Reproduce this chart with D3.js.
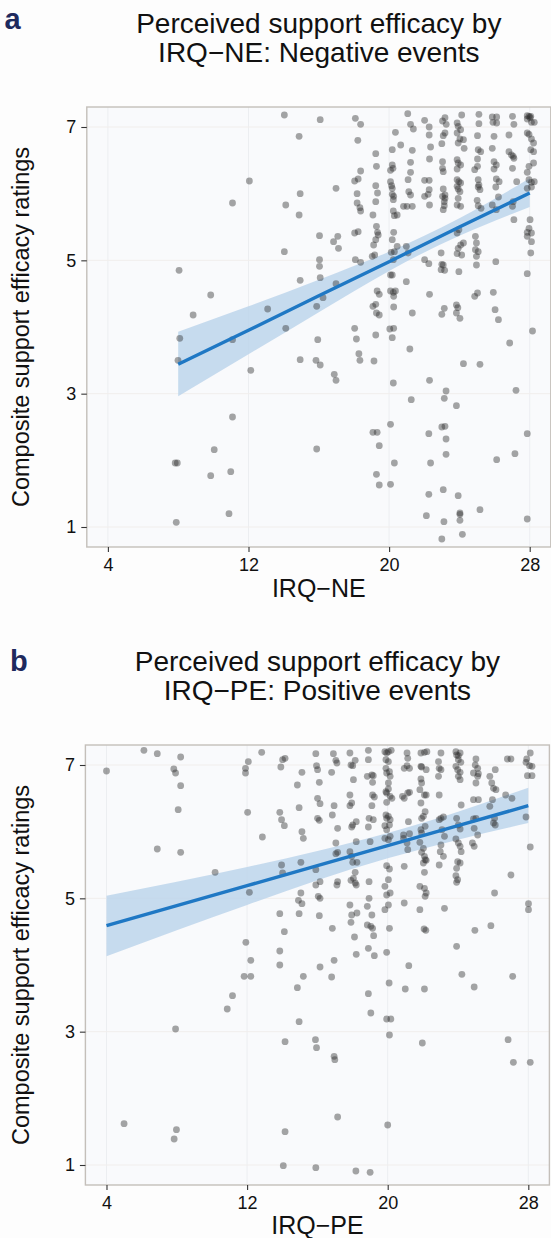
<!DOCTYPE html>
<html>
<head>
<meta charset="utf-8">
<script src="https://cdn.jsdelivr.net/npm/d3@7"></script>
<style>
  body { margin: 0; background: #fdfdfd; }
  text { font-family: "Liberation Sans", Arial, sans-serif; }
</style>
</head>
<body>
<svg id="chart"></svg>
<script>
// ticks shared by both panels
const xTicks = [4, 12, 20, 28];
const yTicks = [1, 3, 5, 7];

// panel a: IRQ-NE (jittered raw points)
const negPoints = [
  [14.04,7.18],[16.08,7.11],[18.08,7.13],[18.38,7.04],[21.06,7.20],[21.22,7.04],[21.38,6.97],[22.02,7.10],[22.28,7.00],[23.04,7.09],
  [23.18,7.14],[23.25,7.04],[23.87,7.06],[23.93,7.01],[24.07,6.96],[24.13,7.18],[25.11,7.19],[25.11,7.05],[25.87,7.15],[25.91,7.07],
  [26.12,7.15],[26.12,7.06],[27.02,7.16],[27.10,7.04],[27.86,7.17],[27.86,7.12],[27.96,7.16],[28.02,7.14],[28.06,7.16],[28.10,7.07],[28.26,7.07],
  [14.88,6.86],[18.22,6.80],[20.36,6.92],[22.28,6.88],[23.08,6.87],[23.18,6.91],[23.87,6.91],[24.03,6.82],[24.23,6.81],[25.03,6.87],
  [25.97,6.86],[26.82,6.88],[27.86,6.91],[27.96,6.89],[28.10,6.82],[28.22,6.76],
  [19.24,6.60],[20.18,6.66],[20.66,6.73],[21.32,6.65],[22.36,6.70],[23.00,6.75],[23.93,6.76],[24.27,6.68],[25.07,6.66],[25.21,6.63],
  [25.87,6.68],[26.82,6.63],[26.96,6.58],[27.10,6.53],[28.06,6.66],[28.22,6.63],
  [21.22,6.47],[22.30,6.52],[23.04,6.48],[23.87,6.51],[23.93,6.46],[24.07,6.43],[25.03,6.52],[25.97,6.48],[26.10,6.43],[27.06,6.56],[28.22,6.46],[27.96,6.41],
  [20.18,6.43],[20.22,6.38],[20.08,6.35],[19.28,6.41],[18.38,6.34],[18.24,6.22],[18.04,6.19],[19.24,6.12],[20.08,6.18],[20.14,6.12],
  [21.08,6.21],[21.22,6.32],[22.02,6.20],[22.28,6.20],[23.04,6.38],[23.08,6.33],[23.87,6.37],[23.87,6.21],[23.97,6.18],[24.07,6.16],
  [24.87,6.36],[25.03,6.41],[25.07,6.21],[25.11,6.13],[25.97,6.37],[26.10,6.22],[27.02,6.38],[27.26,6.18],[27.86,6.32],[27.96,6.21],
  [28.10,6.17],[28.26,6.18],[28.10,6.10],
  [12.05,6.19],[16.98,6.08],[14.94,6.00],[18.18,6.00],[19.34,6.01],[20.18,6.08],[20.18,5.99],[20.26,5.96],[21.12,6.03],[21.22,5.98],
  [22.28,6.06],[22.22,5.99],[23.08,6.07],[23.18,5.98],[23.87,6.11],[23.93,6.07],[24.03,6.03],[25.07,6.10],[25.17,6.06],[26.07,6.10],[26.26,6.18],[27.86,6.08],
  [11.09,5.86],[14.12,5.83],[14.88,5.68],[18.18,5.86],[18.34,5.79],[18.38,5.74],[19.24,5.88],[20.24,5.91],[20.24,5.74],[20.30,5.67],
  [20.46,5.68],[20.82,5.81],[21.02,5.81],[21.32,5.81],[22.02,5.96],[22.30,5.83],[23.04,5.96],[23.18,5.93],[23.14,5.88],[23.14,5.82],
  [23.08,5.76],[23.93,5.93],[23.87,5.83],[24.07,5.81],[25.01,5.90],[25.07,5.82],[25.23,5.78],[25.87,5.83],[26.10,5.76],[26.22,5.95],
  [27.06,5.88],[27.02,5.81],[27.10,5.61],[28.02,5.61],[27.96,5.48],[27.86,5.42],[28.10,5.41],
  [19.08,5.68],[19.28,5.51],[19.34,5.42],[19.24,5.31],[19.12,5.23],[18.24,5.43],[18.04,5.41],[17.08,5.36],[16.84,5.28],[17.12,5.18],
  [16.04,5.37],[20.26,5.42],[20.18,5.31],[20.46,5.21],[20.98,5.21],[20.30,5.13],[20.12,5.12],[21.08,5.11],[19.38,5.38],[20.24,5.01],
  [19.18,5.08],[19.04,5.06],[18.08,5.01],[18.38,4.97],[22.02,5.01],[22.26,4.95],[22.96,5.11],[23.00,4.94],[23.08,4.93],[22.96,4.86],
  [23.16,4.85],[23.87,5.41],[23.97,5.46],[24.07,5.23],[23.93,5.18],[23.87,5.10],[24.23,5.26],[24.13,5.08],[23.97,4.83],[24.91,5.36],
  [24.97,5.26],[24.91,5.16],[25.07,5.13],[24.97,5.06],[24.97,4.93],[26.07,4.98],[27.86,5.36],[28.10,5.28],[28.06,5.11],[27.86,4.80],
  [14.04,5.13],[16.04,5.01],[16.04,4.91],[16.08,4.74],[14.94,4.70],[16.98,4.65],[20.08,4.78],[20.18,4.78],[20.98,4.68],[8.05,4.85],
  [9.85,4.48],[8.85,4.18],[8.09,3.83],[7.99,3.50],[11.09,3.81],[12.13,3.35],[13.09,4.27],[14.12,3.98],[14.94,3.51],[15.84,3.50],
  [16.08,3.43],[15.94,3.81],[15.88,4.31],[16.24,4.44],[16.88,3.29],[16.98,3.20],[18.04,3.98],[18.14,3.82],[18.28,3.60],[18.34,3.50],
  [19.14,3.49],[19.24,3.88],[19.08,4.31],[19.24,4.34],[19.28,4.21],[19.44,4.18],[19.32,4.54],[19.44,4.49],[20.08,4.54],[20.24,4.52],
  [20.36,4.54],[20.26,4.46],[20.26,4.30],[20.04,3.97],[20.26,3.98],[20.18,3.84],[21.18,3.67],[21.32,4.21],[22.30,4.49],[23.00,4.19],
  [23.14,4.28],[23.83,4.33],[23.91,4.29],[23.83,4.21],[24.03,4.13],[24.23,3.45],[24.87,4.46],[25.03,4.51],[25.17,3.44],[25.93,4.52],
  [26.03,4.26],[26.22,4.11],[26.86,3.76],[28.16,3.94],[20.24,3.16],[22.30,3.20],[21.26,2.91],[23.14,2.93],[23.24,3.04],[23.83,2.82],
  [27.22,3.05],[11.09,2.65],[20.08,2.54],[19.08,2.42],[19.32,2.42],[19.44,2.22],[15.88,2.17],[10.05,2.16],[7.83,1.96],[7.95,1.96],
  [9.85,1.77],[10.99,1.83],[22.26,2.40],[23.00,2.50],[23.18,2.51],[23.24,2.32],[23.24,2.09],[22.36,1.96],[20.30,1.96],[19.28,1.79],
  [19.44,1.63],[20.08,1.64],[23.08,1.56],[26.12,2.01],[27.16,2.10],[27.86,2.40],
  [22.26,1.49],[23.93,1.47],[22.12,1.17],[23.12,1.08],[24.03,1.21],[24.03,1.19],[24.03,1.10],[24.17,0.89],[23.00,0.82],[25.17,1.26],
  [27.86,1.12],[7.89,1.07],[10.89,1.20]
];

// panel a: fitted line and 95% band
const negFitX = [8, 12, 16, 20, 24, 28];
const negFitY = [3.44, 3.95, 4.47, 4.98, 5.50, 6.01];
const negFitLow = [2.96, 3.59, 4.22, 4.84, 5.37, 5.80];
const negFitHigh = [3.93, 4.31, 4.71, 5.13, 5.63, 6.23];

// panel b: IRQ-PE
const posPoints = [
  [4.00,6.91],[6.13,7.22],[6.89,7.17],[8.22,7.12],[7.83,6.94],[7.93,6.88],[8.22,6.69],[8.08,6.33],[6.89,5.74],[8.22,5.69],
  [10.18,5.39],[11.91,6.95],[11.91,6.88],[12.07,7.05],[12.83,7.19],[12.03,6.29],[12.87,5.92],[12.13,5.09],
  [13.92,6.97],[14.02,7.08],[14.16,7.10],[13.86,6.29],[13.96,6.18],[14.12,6.09],[13.96,5.50],[14.02,5.38],[14.86,6.70],[14.96,6.36],
  [15.12,6.89],[15.12,6.00],[15.20,5.90],[15.06,5.54],[14.92,4.97],[15.06,5.08],[15.12,4.92],[13.86,4.77],[14.96,4.77],
  [15.91,7.17],[15.95,6.99],[16.01,6.93],[16.11,6.74],[16.01,6.50],[16.15,6.42],[16.01,6.20],[16.11,6.17],
  [16.91,7.17],[17.05,7.07],[17.11,7.03],[16.81,6.89],[16.95,6.39],[16.85,6.25],[17.15,6.05],[17.05,5.83],[17.15,5.69],[17.05,5.67],
  [15.91,5.43],[16.15,5.25],[15.91,5.20],[16.05,5.03],[16.15,5.00],[17.15,5.25],[17.11,5.20],[16.11,4.74],
  [17.85,7.18],[17.91,7.00],[18.01,6.99],[18.15,7.07],[18.05,6.78],[17.85,6.55],[17.95,6.43],[17.85,6.39],[18.01,6.10],[17.95,6.07],
  [18.21,6.15],[18.21,5.85],[17.85,5.70],[17.95,5.63],[18.01,5.54],[18.25,5.54],[17.91,5.27],[18.05,5.30],[18.15,5.23],[18.21,5.20],
  [18.15,5.39],[17.85,4.90],[17.95,4.75],[18.25,4.78],
  [18.90,7.22],[18.84,6.83],[19.10,6.85],[19.18,6.84],[19.14,6.74],[18.90,7.08],[19.14,6.55],[19.10,6.39],[19.24,6.52],[18.94,6.20],
  [19.18,6.18],[18.90,6.07],[19.00,5.85],[18.94,5.25],[18.94,5.00],[18.84,4.88],[19.10,4.75],
  [19.84,7.20],[19.94,7.18],[20.04,7.20],[20.20,7.22],[19.90,7.08],[20.04,7.05],[19.90,6.95],[19.94,6.88],[20.10,6.90],[20.14,6.83],
  [20.04,6.73],[19.90,6.60],[19.94,6.58],[20.04,6.64],[20.14,6.53],[19.94,6.44],[20.24,6.50],[19.90,6.25],[19.94,6.20],[20.04,6.23],
  [20.14,6.18],[19.84,6.09],[19.94,6.03],[20.10,6.10],[19.84,5.90],[20.04,5.88],[20.14,5.93],[20.90,5.90],[21.14,5.73],[20.94,5.48],
  [19.94,5.49],[20.10,5.44],[20.04,5.28],[19.84,5.18],[19.94,5.05],[20.14,5.08],[20.04,4.90],[19.84,4.83],[20.94,4.93],
  [21.10,7.18],[21.14,7.10],[21.10,6.99],[20.94,6.95],[21.24,6.95],[20.84,6.53],[20.94,6.50],[21.14,6.58],[21.24,6.59],[21.18,6.15],
  [20.90,5.95],[21.10,5.83],[21.24,5.97],
  [21.89,7.18],[22.09,7.19],[22.23,7.20],[21.89,6.98],[21.93,6.97],[22.19,6.93],[21.89,6.79],[21.93,6.73],[21.83,6.63],[22.09,6.55],
  [22.19,6.55],[21.89,6.43],[22.13,6.30],[22.03,6.23],[21.93,6.20],[22.13,6.08],[21.89,6.03],[21.93,5.98],[21.83,5.84],[22.03,5.75],
  [21.93,5.69],[22.09,5.63],[22.13,5.58],[22.19,5.57],[22.03,5.53],[21.83,5.18],[22.09,5.15],[22.19,5.08],[22.13,5.03],[21.83,4.83],[22.09,5.39],
  [23.03,7.18],[22.89,7.05],[22.93,6.95],[23.03,6.93],[22.89,6.83],[22.93,6.55],[23.03,6.20],[23.17,6.22],[22.93,6.18],[23.09,6.03],
  [23.23,5.93],[23.03,5.80],[22.99,5.70],[23.17,5.63],[22.93,5.50],[23.23,4.85],
  [23.88,7.20],[23.92,7.15],[24.02,7.14],[24.12,7.18],[24.02,7.08],[24.16,7.04],[23.88,6.98],[23.98,6.93],[24.12,6.89],[24.02,6.83],
  [24.12,6.78],[24.18,6.40],[23.92,6.20],[24.02,6.10],[24.12,6.04],[23.88,5.89],[24.02,5.83],[24.12,5.78],[24.18,5.70],[23.98,5.55],
  [24.12,5.53],[23.92,5.45],[23.88,5.34],[23.98,5.28],[23.92,5.24],
  [25.02,7.09],[24.98,7.00],[25.12,6.95],[24.88,6.88],[25.16,6.87],[25.02,6.73],[25.12,6.83],[24.88,6.48],[25.16,6.48],[24.88,6.19],
  [25.02,6.20],[24.92,6.05],[25.12,5.95],[24.82,5.83],[24.92,5.78],
  [25.81,6.83],[26.12,6.93],[25.92,6.73],[26.02,6.65],[26.16,6.63],[25.81,6.38],[25.96,6.48],[26.08,6.20],[26.12,6.10],[26.02,6.13],
  [27.01,5.35],[26.08,5.08],[26.81,7.09],[27.01,7.09],[26.71,6.55],[27.07,6.50],
  [27.91,7.09],[27.87,7.04],[28.11,7.18],[28.21,6.98],[28.07,6.99],[27.95,6.84],[28.21,6.84],[27.87,6.22],[28.11,5.77],[28.01,4.92],[28.01,4.83],
  [14.12,4.50],[11.93,4.34],[13.86,4.21],[12.21,4.07],[13.86,4.00],[11.83,3.83],[12.21,3.83],[11.17,3.54],[10.87,3.34],[7.93,3.04],
  [14.86,3.66],[14.96,3.15],[15.20,3.83],[16.15,3.97],[16.85,4.55],[16.95,4.07],[16.81,3.82],[17.91,4.64],[18.11,4.42],[18.21,4.16],
  [18.84,4.60],[19.04,4.58],[19.14,4.55],[18.90,4.25],[19.20,4.44],[19.24,4.14],[19.94,4.19],[20.10,4.55],[20.08,3.73],[21.20,3.99],
  [21.00,3.64],[22.07,4.54],[22.17,4.52],[22.09,3.64],[18.90,3.57],[19.04,3.28],[19.94,3.19],[20.18,3.19],[20.10,2.95],[21.97,2.83],
  [23.92,4.28],[24.22,3.86],[24.92,3.67],[24.96,4.52],[25.87,4.59],[27.11,3.83],[26.85,2.88],[27.15,2.54],[28.11,2.54],[14.16,2.85],
  [15.89,2.88],[15.95,2.76],[16.95,2.63],[16.99,2.58],[17.15,1.72],
  [5.00,1.62],[7.98,1.53],[7.85,1.39],[14.16,1.50],[20.00,1.60],[14.06,0.99],[15.91,0.96],[18.19,0.91],[19.00,0.89]
];

// panel b: fitted line and 95% band
const posFitX = [4, 8, 12, 16, 20, 24, 28];
const posFitY = [4.59, 4.89, 5.19, 5.49, 5.79, 6.09, 6.39];
const posFitLow = [4.13, 4.52, 4.90, 5.27, 5.60, 5.88, 6.13];
const posFitHigh = [5.04, 5.25, 5.47, 5.71, 5.98, 6.30, 6.66];

const width = 551, height = 1238;

const svg = d3.select("#chart")
  .attr("width", width)
  .attr("height", height);

svg.append("rect").attr("width", width).attr("height", height).attr("fill", "#fdfdfd");

function drawPanel(p) {
  const left = p.left, right = p.left + 464, top = p.top, bottom = p.top + 440;
  const cx = (left + right) / 2;

  const x = d3.scaleLinear().domain([2.8, 29.2]).range([left, right]);
  const y = d3.scaleLinear().domain([0.7, 7.3]).range([bottom, top]);

  const g = svg.append("g");

  // panel background
  g.append("rect")
    .attr("x", left).attr("y", top)
    .attr("width", right - left).attr("height", bottom - top)
    .attr("fill", "#f9fafc");

  // grid lines
  g.selectAll(".gx").data(xTicks).enter().append("line")
    .attr("x1", d => x(d)).attr("x2", d => x(d))
    .attr("y1", top).attr("y2", bottom)
    .attr("stroke", "#eceef1").attr("stroke-width", 1);
  g.selectAll(".gy").data(yTicks).enter().append("line")
    .attr("x1", left).attr("x2", right)
    .attr("y1", d => y(d)).attr("y2", d => y(d))
    .attr("stroke", "#f1eeec").attr("stroke-width", 1);

  // confidence band
  const band = p.fitX.map((v, i) => ({x: v, lo: p.fitLow[i], hi: p.fitHigh[i]}));
  g.append("path")
    .datum(band)
    .attr("d", d3.area()
      .x(d => x(d.x))
      .y0(d => y(d.lo))
      .y1(d => y(d.hi))
      .curve(d3.curveNatural))
    .attr("fill", "#bdd5eb")
    .attr("opacity", 0.85);

  // points
  g.selectAll(".pt").data(p.points).enter().append("circle")
    .attr("cx", d => x(d[0]))
    .attr("cy", d => y(d[1]))
    .attr("r", 3.4)
    .attr("fill", "#2b2b2b")
    .attr("fill-opacity", 0.42);

  // fitted line
  const fit = p.fitX.map((v, i) => [v, p.fitY[i]]);
  g.append("path")
    .datum(fit)
    .attr("d", d3.line().x(d => x(d[0])).y(d => y(d[1])))
    .attr("fill", "none")
    .attr("stroke", "#1f78c4")
    .attr("stroke-width", 3.4);

  // border
  g.append("rect")
    .attr("x", left).attr("y", top)
    .attr("width", right - left).attr("height", bottom - top)
    .attr("fill", "none")
    .attr("stroke", "#c4bfba").attr("stroke-width", 1.4);

  // axes
  const ax = g.append("g")
    .attr("transform", `translate(0,${bottom})`)
    .call(d3.axisBottom(x).tickValues(xTicks).tickSize(5).tickPadding(6));
  const ay = g.append("g")
    .attr("transform", `translate(${left},0)`)
    .call(d3.axisLeft(y).tickValues(yTicks).tickFormat(d3.format("d")).tickSize(5.5).tickPadding(5));
  [ax, ay].forEach(a => {
    a.select(".domain").remove();
    a.selectAll("line").attr("stroke", "#333").attr("stroke-width", 1.1);
    a.selectAll("text").attr("fill", "#111").style("font-size", "18px")
      .style("font-family", '"Liberation Sans", Arial, sans-serif');
  });

  // title
  const tt = g.append("text")
    .attr("text-anchor", "middle")
    .attr("fill", "#111")
    .style("font-size", "28px");
  tt.append("tspan").attr("x", cx).attr("y", top - 74).text(p.title[0]);
  tt.append("tspan").attr("x", cx).attr("y", top - 45).text(p.title[1]);

  // panel letter
  g.append("text")
    .attr("x", p.letterX).attr("y", p.letterY)
    .attr("fill", "#1e2a5e")
    .style("font-size", "29px")
    .style("font-weight", "bold")
    .text(p.letter);

  // axis titles
  g.append("text")
    .attr("x", cx).attr("y", p.xLabelY)
    .attr("text-anchor", "middle")
    .attr("fill", "#111")
    .style("font-size", "25px")
    .text(p.xLabel);

  g.append("text")
    .attr("transform", `translate(29,${(top + bottom) / 2}) rotate(-90)`)
    .attr("text-anchor", "middle")
    .attr("fill", "#111")
    .style("font-size", "23.5px")
    .text("Composite support efficacy ratings");
}

drawPanel({
  top: 107, left: 86.8, letter: "a", letterX: 4.5, letterY: 29,
  title: ["Perceived support efficacy by", "IRQ\u2212NE: Negative events"],
  xLabel: "IRQ\u2212NE", xLabelY: 597,
  points: negPoints, fitX: negFitX, fitY: negFitY, fitLow: negFitLow, fitHigh: negFitHigh
});

drawPanel({
  top: 745, left: 85.4, letter: "b", letterX: 10, letterY: 670.5,
  title: ["Perceived support efficacy by", "IRQ\u2212PE: Positive events"],
  xLabel: "IRQ\u2212PE", xLabelY: 1234,
  points: posPoints, fitX: posFitX, fitY: posFitY, fitLow: posFitLow, fitHigh: posFitHigh
});
</script>
</body>
</html>
